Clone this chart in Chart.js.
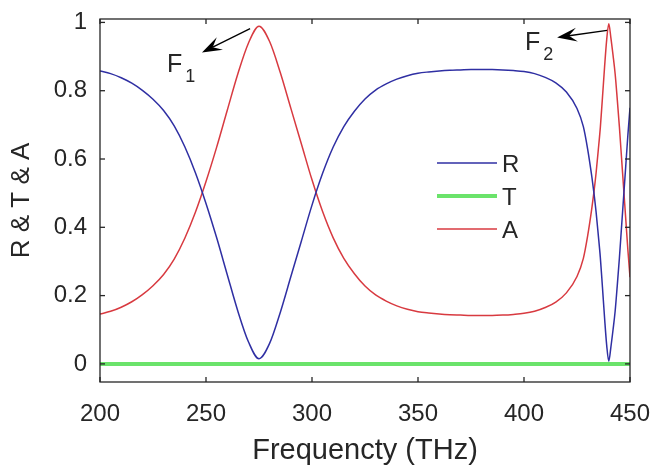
<!DOCTYPE html>
<html>
<head>
<meta charset="utf-8">
<script src="https://cdn.jsdelivr.net/npm/chart.js@4.4.1/dist/chart.umd.min.js"></script>
<style>
  body { margin: 0; background: #fff; }
  #wrap { width: 650px; height: 465px; }
</style>
</head>
<body>
<div id="wrap"><canvas id="spectrum" width="650" height="465"></canvas></div>
<script>
// --------------- Data ---------------
const freq = [200, 205, 210, 215, 220, 225, 230, 235, 240, 245, 250, 255, 260, 265, 270, 275,
  280, 285, 290, 295, 300, 305, 310, 315, 320, 325, 330, 335, 340, 345, 350, 355, 360, 365,
  370, 375, 380, 385, 390, 395, 400, 405, 410, 415, 420, 425, 428, 430, 432, 433, 434, 435,
  436, 437, 438, 439, 440, 441, 442, 443, 444, 445, 446, 447, 448, 449, 450];

// reflectance
const refl = [0.858, 0.850, 0.838, 0.822, 0.801, 0.775, 0.742, 0.697, 0.636, 0.560, 0.470, 0.370,
  0.262, 0.155, 0.065, 0.015, 0.060, 0.150, 0.255, 0.360, 0.465, 0.558, 0.635, 0.695, 0.740,
  0.776, 0.802, 0.820, 0.834, 0.844, 0.851, 0.855, 0.858, 0.860, 0.861, 0.862, 0.862, 0.862,
  0.861, 0.859, 0.856, 0.850, 0.839, 0.823, 0.796, 0.748, 0.695, 0.630, 0.548, 0.500, 0.445,
  0.380, 0.312, 0.225, 0.135, 0.055, 0.008, 0.050, 0.100, 0.155, 0.230, 0.310, 0.400, 0.490,
  0.580, 0.670, 0.750];

// absorbance
const absorb = [0.146, 0.154, 0.166, 0.182, 0.203, 0.229, 0.262, 0.307, 0.368, 0.444, 0.534, 0.634,
  0.742, 0.849, 0.939, 0.989, 0.944, 0.854, 0.749, 0.644, 0.539, 0.446, 0.369, 0.309, 0.264,
  0.228, 0.202, 0.184, 0.170, 0.160, 0.153, 0.149, 0.146, 0.144, 0.143, 0.142, 0.142, 0.142,
  0.143, 0.145, 0.148, 0.154, 0.165, 0.181, 0.208, 0.256, 0.309, 0.374, 0.456, 0.504, 0.559,
  0.624, 0.692, 0.779, 0.869, 0.949, 0.996, 0.954, 0.904, 0.849, 0.774, 0.694, 0.604, 0.514,
  0.424, 0.334, 0.254];

// transmittance (flat)
const transFreq = [200, 250, 300, 350, 400, 450];
const trans = [0, 0, 0, 0, 0, 0];

const xTicks = [200, 250, 300, 350, 400, 450];
const yTicks = [0, 0.2, 0.4, 0.6, 0.8, 1];

// resonance markers: arrow from 'from' to 'to', label at 'text'
const marks = [
  { label: 'F', sub: '1', from: [270.8, 0.982], to: [248.1, 0.912], text: [231.6, 0.854] },
  { label: 'F', sub: '2', from: [439.2, 0.977], to: [415.6, 0.956], text: [400.5, 0.918] }
];

const FONT = 'Liberation Sans, Arial, sans-serif';
const INK = '#262626';

function pts(xs, ys) {
  return xs.map((x, i) => ({ x: x, y: ys[i] }));
}

// --------------- Plugins ---------------
function seg(ctx, x1, y1, x2, y2) {
  ctx.beginPath();
  ctx.moveTo(x1, y1);
  ctx.lineTo(x2, y2);
  ctx.stroke();
}

// box + inward ticks on all four sides
const framePlugin = {
  id: 'frame',
  afterDatasetsDraw(chart) {
    const { ctx, chartArea: a, scales: { x, y } } = chart;
    ctx.save();
    ctx.strokeStyle = INK;
    ctx.lineWidth = 1.3;
    ctx.strokeRect(a.left, a.top, a.right - a.left, a.bottom - a.top);
    const tl = 5;
    xTicks.forEach(v => {
      const px = x.getPixelForValue(v);
      seg(ctx, px, a.bottom, px, a.bottom - tl);
      seg(ctx, px, a.top, px, a.top + tl);
    });
    yTicks.forEach(v => {
      const py = y.getPixelForValue(v);
      seg(ctx, a.left, py, a.left + tl, py);
      seg(ctx, a.right, py, a.right - tl, py);
    });
    ctx.restore();
  }
};

// arrows with F1 / F2 labels
const markPlugin = {
  id: 'marks',
  afterDatasetsDraw(chart) {
    const { ctx, scales: { x, y } } = chart;
    ctx.save();
    ctx.strokeStyle = '#000';
    ctx.lineWidth = 1.3;
    marks.forEach(m => {
      const x1 = x.getPixelForValue(m.from[0]), y1 = y.getPixelForValue(m.from[1]);
      const x2 = x.getPixelForValue(m.to[0]), y2 = y.getPixelForValue(m.to[1]);
      const ang = Math.atan2(y2 - y1, x2 - x1);
      const L = 20, W = 7;
      const bx = x2 - L * Math.cos(ang), by = y2 - L * Math.sin(ang);
      const nx = x2 - 0.6 * L * Math.cos(ang), ny = y2 - 0.6 * L * Math.sin(ang);
      seg(ctx, x1, y1, nx, ny);
      ctx.fillStyle = '#000';
      ctx.beginPath();
      ctx.moveTo(x2, y2);
      ctx.lineTo(bx + W * Math.sin(ang), by - W * Math.cos(ang));
      ctx.lineTo(nx, ny);
      ctx.lineTo(bx - W * Math.sin(ang), by + W * Math.cos(ang));
      ctx.closePath();
      ctx.fill();

      const tx = x.getPixelForValue(m.text[0]), ty = y.getPixelForValue(m.text[1]);
      ctx.fillStyle = INK;
      ctx.textBaseline = 'alphabetic';
      ctx.textAlign = 'left';
      ctx.font = '25px ' + FONT;
      ctx.fillText(m.label, tx, ty);
      const w = ctx.measureText(m.label).width;
      ctx.font = '18px ' + FONT;
      ctx.fillText(m.sub, tx + w + 3, ty + 10);
    });
    ctx.restore();
  }
};

// legend box inside the plot
const legendPlugin = {
  id: 'innerLegend',
  afterDatasetsDraw(chart) {
    const { ctx, chartArea: a } = chart;
    ctx.save();
    ctx.font = '24px ' + FONT;
    ctx.textBaseline = 'middle';
    ctx.textAlign = 'left';
    chart.data.datasets.forEach((ds, i) => {
      const yy = a.top + 144 + i * 33;
      const x0 = a.left + 337;
      ctx.strokeStyle = ds.borderColor;
      ctx.lineWidth = ds.borderWidth;
      seg(ctx, x0, yy, x0 + 60, yy);
      ctx.fillStyle = INK;
      ctx.fillText(ds.label, x0 + 65, yy + 2);
    });
    ctx.restore();
  }
};

// --------------- Chart ---------------
const ctx = document.getElementById('spectrum').getContext('2d');
const chart = new Chart(ctx, {
  type: 'line',
  data: {
    datasets: [
      { label: 'R', data: pts(freq, refl), borderColor: '#2f2fa3', borderWidth: 1.5 },
      { label: 'T', data: pts(transFreq, trans), borderColor: '#6be36b', borderWidth: 4 },
      { label: 'A', data: pts(freq, absorb), borderColor: '#d83a40', borderWidth: 1.5 }
    ]
  },
  options: {
    responsive: false,
    devicePixelRatio: 1,
    animation: false,
    layout: { padding: { left: 0, top: 19, right: 20, bottom: 0 } },
    elements: {
      point: { radius: 0 },
      line: { cubicInterpolationMode: 'monotone', fill: false }
    },
    plugins: {
      legend: { display: false },
      tooltip: { enabled: false }
    },
    scales: {
      x: {
        type: 'linear',
        min: 200,
        max: 450,
        grid: { display: false, drawTicks: false },
        border: { display: false },
        afterBuildTicks: s => { s.ticks = xTicks.map(v => ({ value: v })); },
        afterFit: s => { s.height = 83; s.paddingLeft = 0; s.paddingRight = 0; },
        ticks: { color: INK, padding: 18, maxRotation: 0, font: { family: FONT, size: 24 } },
        title: {
          display: true,
          text: 'Frequencty (THz)',
          color: INK,
          padding: { top: 0, bottom: 0 },
          font: { family: FONT, size: 29, lineHeight: 1 }
        }
      },
      y: {
        type: 'linear',
        min: -0.053,
        max: 1.01,
        grid: { display: false, drawTicks: false },
        border: { display: false },
        afterBuildTicks: s => { s.ticks = yTicks.map(v => ({ value: v })); },
        afterFit: s => { s.width = 100; s.paddingTop = 0; s.paddingBottom = 0; },
        ticks: {
          color: INK,
          padding: 13,
          font: { family: FONT, size: 24 },
          callback: v => String(v)
        },
        title: {
          display: true,
          text: 'R & T & A',
          color: INK,
          padding: { top: 9, bottom: 0 },
          font: { family: FONT, size: 26, lineHeight: 1 }
        }
      }
    }
  },
  plugins: [framePlugin, markPlugin, legendPlugin]
});
</script>
</body>
</html>
